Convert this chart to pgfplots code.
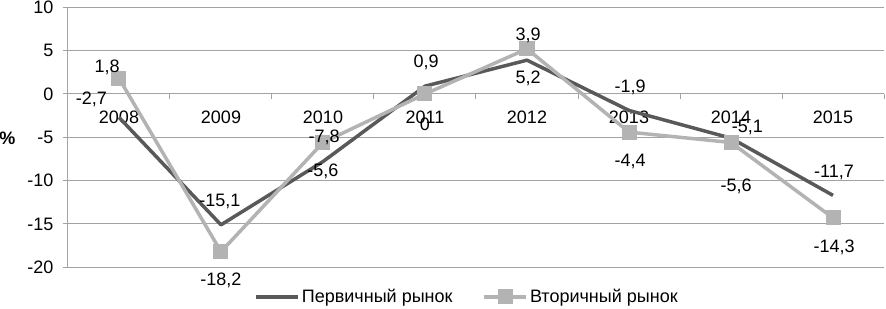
\documentclass[border=0pt]{standalone}
\usepackage{fontspec}
\setmainfont{Liberation Sans}
\usepackage{pgfplots}
\pgfplotsset{compat=1.18}
\definecolor{darkser}{HTML}{595959}
\definecolor{lightser}{HTML}{B3B3B3}
\definecolor{gridc}{HTML}{A3A3A3}
\newcommand\cf{\fontsize{18}{21}\selectfont}
\begin{document}
\begin{tikzpicture}[font=\cf]
\begin{axis}[
  at={(0,0)}, anchor=south west,
  scale only axis, width=816pt, height=260pt,
  xmin=-0.5, xmax=7.5, ymin=-20, ymax=10,
  enlargelimits=false, clip=false,
  axis x line*=middle, axis y line*=left,
  axis line style={draw=gridc, line width=1pt},
  xtick={0,...,7},
  xticklabels={2008,2009,2010,2011,2012,2013,2014,2015},
  minor xtick={-0.5,0.5,...,7.5},
  major x tick style={draw=none},
  minor x tick style={draw=gridc, line width=1pt},
  minor tick length=5pt, major tick length=5pt,
  tick align=outside,
  ytick={-20,-15,-10,-5,0,5,10},
  yticklabels={-20,-15,-10,-5,0,5,10},
  major y tick style={draw=gridc, line width=1pt},
  ymajorgrids, major grid style={draw=gridc, line width=1pt},
  tick label style={font=\cf},
  yticklabel style={xshift=-6pt},
  xticklabel style={yshift=-8pt},
  ylabel={\%},
  every axis y label/.style={at={(axis description cs:0,0.495)}, xshift=-60.5pt, anchor=center, font=\cf\bfseries},
  legend style={at={(0.489,-0.114)}, anchor=center, draw=none, fill=none, legend columns=2, font=\cf,
    /tikz/every even column/.append style={column sep=28pt}},
  legend image code/.code={\draw[mark repeat=2,mark phase=2,#1] plot coordinates {(0pt,0pt)(21pt,0pt)(42pt,0pt)};},
]
\addplot[darkser, line width=3.5pt, line join=round, mark=none] coordinates {(0,-2.7)(1,-15.1)(2,-7.8)(3,0.9)(4,3.9)(5,-1.9)(6,-5.1)(7,-11.7)};
\addlegendentry{Первичный рынок}
\addplot[lightser, line width=3.5pt, line join=round, mark=square*, mark size=7pt, mark options={solid, fill=lightser, draw=lightser, line width=0pt}] coordinates {(0,1.8)(1,-18.2)(2,-5.6)(3,0)(4,5.2)(5,-4.4)(6,-5.6)(7,-14.3)};
\addlegendentry{Вторичный рынок}
\addplot[draw=none, mark=none, forget plot, nodes near coords, point meta=explicit symbolic,
  nodes near coords align={center},
  every node near coord/.append style={anchor=center, inner sep=0pt, text=black, font=\cf}]
  table[meta=l] {
x y l
-0.116 3.07 1,8
-0.27 -0.6 -2,7
0.99 -12.4 -15,1
1.0 -21.5 -18,2
2.01 -5.0 -7,8
2.0 -8.9 -5,6
3.01 3.69 0,9
3.0 -3.46 0
4.01 6.75 3,9
4.01 1.76 5,2
5.01 0.75 -1,9
5.01 -7.8 -4,4
6.16 -3.86 -5,1
6.05 -10.7 -5,6
7.01 -9.0 -11,7
7.01 -17.65 -14,3
};
\end{axis}
\pgfresetboundingbox
\path[use as bounding box] (-68pt,-40.7pt) rectangle (818pt,267.3pt);
\end{tikzpicture}
\end{document}
